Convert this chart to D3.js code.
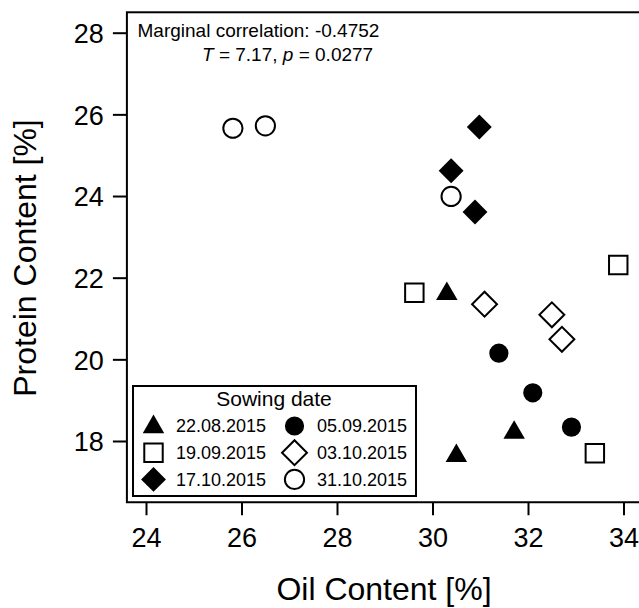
<!DOCTYPE html>
<html>
<head>
<meta charset="utf-8">
<script src="https://cdn.jsdelivr.net/npm/d3@7"></script>
<style>
  body { margin: 0; background: #fff; }
  svg { display: block; font-family: "Liberation Sans", Arial, sans-serif; }
</style>
</head>
<body>
<div id="chart-container"></div>
<script>
// sowing dates (legend order) and their marker style
const sowingDates = ["22.08.2015", "05.09.2015", "19.09.2015", "03.10.2015", "17.10.2015", "31.10.2015"];
const markerShapes = ["triangle", "circle", "square", "diamond", "diamond", "circle"];
const markerFilled = [true, true, false, false, true, false];

// oil content [%] and protein content [%] per sowing date
const oil = [
  [30.3, 31.71, 30.5],
  [31.39, 32.1, 32.91],
  [29.62, 33.89, 33.4],
  [31.09, 32.5, 32.71],
  [30.98, 30.39, 30.89],
  [25.82, 26.5, 30.39]
];
const protein = [
  [21.63, 18.23, 17.66],
  [20.15, 19.18, 18.34],
  [21.63, 22.31, 17.7],
  [21.35, 21.09, 20.49],
  [25.69, 24.62, 23.61],
  [25.66, 25.72, 23.99]
];

const xTicks = [24, 26, 28, 30, 32, 34];
const yTicks = [18, 20, 22, 24, 26, 28];

const w = 639;
const h = 608;

const svg = d3
  .select("#chart-container")
  .append("svg")
  .attr("width", w)
  .attr("height", h);

// scales (axis limits as in the figure: x 23.6-34.4, y 16.5-28.5)
const xScale = d3.scaleLinear().domain([24, 34]).range([146, 623.5]);
const yScale = d3.scaleLinear().domain([18, 28]).range([441, 32.7]);
const xLim = [23.6, 34.4];
const yLim = [16.5, 28.5];

// plot box
svg
  .append("rect")
  .attr("x", xScale(xLim[0]))
  .attr("y", yScale(yLim[1]))
  .attr("width", xScale(xLim[1]) - xScale(xLim[0]))
  .attr("height", yScale(yLim[0]) - yScale(yLim[1]))
  .attr("fill", "none")
  .attr("stroke", "#000")
  .attr("stroke-width", 2);

// axes: ticks outside the box, no domain line
const yAxis = d3.axisLeft(yScale).tickValues(yTicks).tickSize(14).tickPadding(9).tickFormat(d3.format("d"));
const xAxis = d3.axisBottom(xScale).tickValues(xTicks).tickSize(13).tickPadding(12).tickFormat(d3.format("d"));

const gy = svg
  .append("g")
  .attr("transform", "translate(" + xScale(xLim[0]) + ",0)")
  .call(yAxis);

const gx = svg
  .append("g")
  .attr("transform", "translate(0," + yScale(yLim[0]) + ")")
  .call(xAxis);

[gx, gy].forEach((g) => {
  g.select(".domain").remove();
  g.selectAll(".tick line").attr("stroke", "#000").attr("stroke-width", 2);
  g.selectAll(".tick text")
    .attr("fill", "#000")
    .style("font-size", "27px")
    .style("font-family", '"Liberation Sans", Arial, sans-serif');
});
gy.selectAll(".tick text").attr("dy", "0.36em");
gx.selectAll(".tick text").attr("dy", "0.72em");

// axis titles
svg
  .append("text")
  .attr("x", 384)
  .attr("y", 600)
  .attr("text-anchor", "middle")
  .style("font-size", "32px")
  .text("Oil Content [%]");

svg
  .append("text")
  .attr("transform", "translate(36,258) rotate(-90)")
  .attr("text-anchor", "middle")
  .style("font-size", "32px")
  .text("Protein Content [%]");

// annotation
svg
  .append("text")
  .attr("x", 137.5)
  .attr("y", 37)
  .style("font-size", "19px")
  .text("Marginal correlation: -0.4752");

const note = svg.append("text").attr("x", 202).attr("y", 61).style("font-size", "19px");
note.append("tspan").style("font-style", "italic").text("T");
note.append("tspan").text(" = 7.17, ");
note.append("tspan").style("font-style", "italic").text("p");
note.append("tspan").text(" = 0.0277");

// marker paths
const markerSize = { triangle: 200, circle: 290, square: 340, diamond: 310 };
function markerPath(shape) {
  const type =
    shape === "triangle" ? d3.symbolTriangle :
    shape === "circle" ? d3.symbolCircle : d3.symbolSquare;
  return d3.symbol().type(type).size(markerSize[shape])();
}

function drawMarker(g, shape, filled, x, y) {
  const r = shape === "diamond" ? " rotate(45)" : "";
  const dy = shape === "triangle" ? 1 : 0;
  g.append("path")
    .attr("d", markerPath(shape))
    .attr("transform", "translate(" + x + "," + (y + dy) + ")" + r)
    .attr("fill", filled ? "#000" : "#fff")
    .attr("stroke", "#000")
    .attr("stroke-width", filled ? 0 : 2);
}

// points
const points = [];
sowingDates.forEach((d, i) => {
  oil[i].forEach((o, j) => points.push({ group: i, oil: o, protein: protein[i][j] }));
});

const pg = svg.append("g");
points.forEach((p) => {
  drawMarker(pg, markerShapes[p.group], markerFilled[p.group], xScale(p.oil), yScale(p.protein));
});

// legend
const legend = svg.append("g").attr("transform", "translate(133,386)");
legend
  .append("rect")
  .attr("width", 283)
  .attr("height", 110)
  .attr("fill", "#fff")
  .attr("stroke", "#000")
  .attr("stroke-width", 2);

legend
  .append("text")
  .attr("x", 141)
  .attr("y", 20)
  .attr("text-anchor", "middle")
  .style("font-size", "21px")
  .text("Sowing date");

sowingDates.forEach((d, i) => {
  const col = i % 2;
  const row = Math.floor(i / 2);
  const sx = 20.5 + col * 141;
  const sy = 40 + row * 26.7;
  drawMarker(legend, markerShapes[i], markerFilled[i], sx, sy);
  legend
    .append("text")
    .attr("x", sx + 22.5)
    .attr("y", sy)
    .attr("dy", "0.36em")
    .style("font-size", "18px")
    .text(d);
});
</script>
</body>
</html>
